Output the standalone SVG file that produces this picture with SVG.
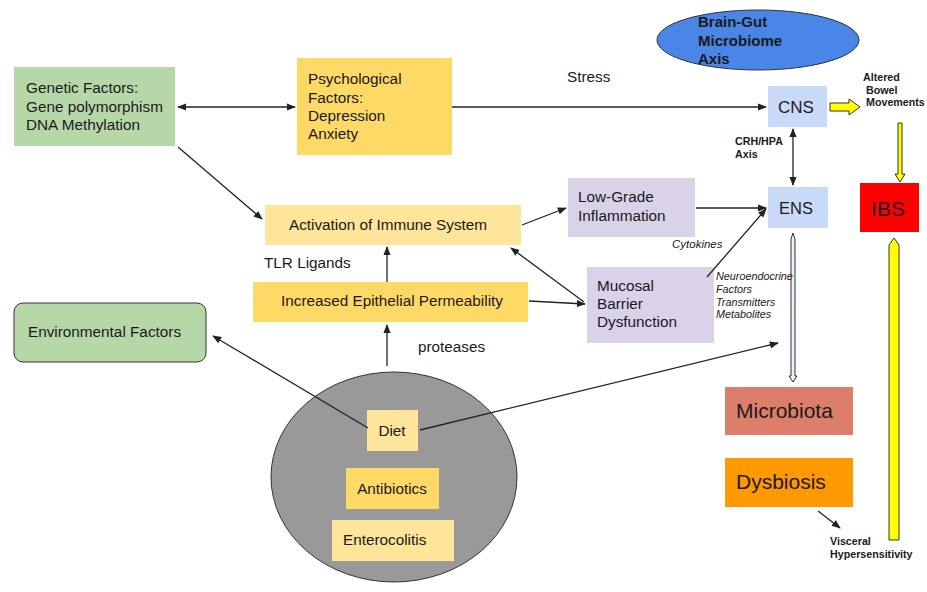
<svg xmlns="http://www.w3.org/2000/svg" width="927" height="592" viewBox="0 0 927 592">
<style>
text{font-family:"Liberation Sans",Arial,sans-serif;fill:#1a1a1a}
.t{font-size:15.3px}
.b{font-size:10.7px;font-weight:bold}
.i{font-size:10.8px;font-style:italic}
.big{font-size:21px}
.ln{stroke:#222;stroke-width:1.3;fill:none}
</style>
<defs>
<marker id="ah" viewBox="0 0 10 10" refX="9" refY="5" markerWidth="7" markerHeight="7" orient="auto-start-reverse"><path d="M0,1 L10,5 L0,9 z" fill="#222"/></marker>
</defs>
<rect width="927" height="592" fill="#fff"/>
<g id="axis"><ellipse cx="758" cy="40" rx="101" ry="30" fill="#4a86e8" stroke="#333" stroke-width="1"/><text x="698" y="27" style="font-size:15px;font-weight:bold">Brain-Gut</text><text x="698" y="46" style="font-size:15px;font-weight:bold">Microbiome</text><text x="698" y="64" style="font-size:15px;font-weight:bold">Axis</text></g>
<g id="genetic"><rect x="14" y="67" width="161" height="79" fill="#b6d7a8"/><text class="t" x="26" y="93">Genetic Factors:</text><text class="t" x="26" y="112">Gene polymorphism</text><text class="t" x="26" y="130">DNA Methylation</text></g>
<g id="psych"><rect x="297" y="58" width="155" height="97" fill="#ffd966"/><text class="t" x="308" y="84">Psychological</text><text class="t" x="308" y="103">Factors:</text><text class="t" x="308" y="121">Depression</text><text class="t" x="308" y="139">Anxiety</text></g>
<g id="cns"><rect x="768" y="86" width="59" height="41" fill="#c9daf8"/><text x="796" y="113" text-anchor="middle" style="font-size:17px">CNS</text></g>
<g id="ens"><rect x="768" y="187" width="60" height="41" fill="#c9daf8"/><text x="796" y="214" text-anchor="middle" style="font-size:16.5px">ENS</text></g>
<g id="ibs"><rect x="860" y="183" width="59" height="49" fill="#ff0000"/><text x="888" y="216" text-anchor="middle" style="font-size:21px">IBS</text></g>
<g id="activation"><rect x="265" y="205" width="256" height="40" fill="#ffe599"/><text class="t" x="388" y="230" text-anchor="middle">Activation of Immune System</text></g>
<g id="epithelial"><rect x="253" y="282" width="275" height="40" fill="#ffd966"/><text class="t" x="392" y="306" text-anchor="middle">Increased Epithelial Permeability</text></g>
<g id="lowgrade"><rect x="568" y="178" width="127" height="59" fill="#d9d2e9"/><text class="t" x="578" y="202">Low-Grade</text><text class="t" x="578" y="221">Inflammation</text></g>
<g id="mucosal"><rect x="587" y="267" width="127" height="76" fill="#d9d2e9"/><text class="t" x="597" y="291">Mucosal</text><text class="t" x="597" y="309">Barrier</text><text class="t" x="597" y="327">Dysfunction</text></g>
<g id="environmental"><rect x="14" y="303" width="192" height="59" rx="9" fill="#b6d7a8" stroke="#333" stroke-width="1"/><text class="t" x="28" y="337">Environmental Factors</text></g>
<g id="microbiota"><rect x="725" y="387" width="128" height="48" fill="#dd7e6b"/><text class="big" x="736" y="418">Microbiota</text></g>
<g id="dysbiosis"><rect x="725" y="458" width="128" height="49" fill="#ff9900"/><text class="big" x="736" y="489">Dysbiosis</text></g>
<g id="circle"><ellipse cx="394" cy="477" rx="123" ry="105" fill="#999999" stroke="#333" stroke-width="1"/></g>
<g id="diet"><rect x="367" y="410" width="51" height="41" fill="#ffe599"/><text class="t" x="392" y="436" text-anchor="middle">Diet</text></g>
<g id="antibiotics"><rect x="346" y="468" width="93" height="41" fill="#ffd966"/><text class="t" x="392" y="494" text-anchor="middle">Antibiotics</text></g>
<g id="enterocolitis"><rect x="332" y="520" width="122" height="41" fill="#ffe599"/><text class="t" x="343" y="545">Enterocolitis</text></g>
<g id="connectors">
<line class="ln" x1="178" y1="107" x2="295" y2="107" marker-start="url(#ah)" marker-end="url(#ah)"/>
<line class="ln" x1="452" y1="107" x2="766" y2="107" marker-end="url(#ah)"/>
<line class="ln" x1="178" y1="147" x2="262" y2="219" marker-end="url(#ah)"/>
<line class="ln" x1="793" y1="129" x2="793" y2="185" marker-start="url(#ah)" marker-end="url(#ah)"/>
<line class="ln" x1="522" y1="225" x2="566" y2="208" marker-end="url(#ah)"/>
<line class="ln" x1="387" y1="282" x2="387" y2="247" marker-end="url(#ah)"/>
<line class="ln" x1="584" y1="302" x2="511" y2="248" marker-end="url(#ah)"/>
<line class="ln" x1="529" y1="301" x2="585" y2="304" marker-end="url(#ah)"/>
<line class="ln" x1="696" y1="208" x2="766" y2="208" marker-end="url(#ah)"/>
<line class="ln" x1="707" y1="277" x2="766" y2="209" marker-end="url(#ah)"/>
<line class="ln" x1="387" y1="366" x2="387" y2="325" marker-end="url(#ah)"/>
<line class="ln" x1="368" y1="428" x2="213" y2="336" marker-end="url(#ah)"/>
<line class="ln" x1="420" y1="430" x2="778" y2="343" marker-end="url(#ah)"/>
<line class="ln" x1="818" y1="511" x2="840" y2="528" marker-end="url(#ah)"/>
<path d="M830,103 H849 V99 L860,107 L849,115 V111 H830 Z" fill="#ffff00" stroke="#333" stroke-width="1"/>
<path d="M898,123 H902 V174 H905 L900,182 L895,174 H898 Z" fill="#ffff00" stroke="#333" stroke-width="1"/>
<path d="M889,540 V245 L894,238 L899,245 V540 Z" fill="#ffff00" stroke="#333" stroke-width="1"/>
<path d="M791,239 L793,233 L795,239 V376 L797,376 L793,382 L789,376 L791,376 Z" fill="#e8f0f8" stroke="#333" stroke-width="1"/>
</g>
<g id="labels">
<text class="t" x="567" y="82">Stress</text>
<text class="b" x="863" y="81">Altered</text>
<text class="b" x="866" y="94">Bowel</text>
<text class="b" x="866" y="106">Movements</text>
<text class="b" x="735" y="145">CRH/HPA</text>
<text class="b" x="735" y="158">Axis</text>
<text class="i" x="672" y="248" style="font-size:11.5px">Cytokines</text>
<text class="i" x="716" y="280">Neuroendocrine</text>
<text class="i" x="716" y="293">Factors</text>
<text class="i" x="716" y="306">Transmitters</text>
<text class="i" x="716" y="318">Metabolites</text>
<text class="t" x="264" y="268">TLR Ligands</text>
<text class="t" x="418" y="352">proteases</text>
<text class="b" x="830" y="545">Visceral</text>
<text class="b" x="830" y="558">Hypersensitivity</text>
</g>
</svg>
